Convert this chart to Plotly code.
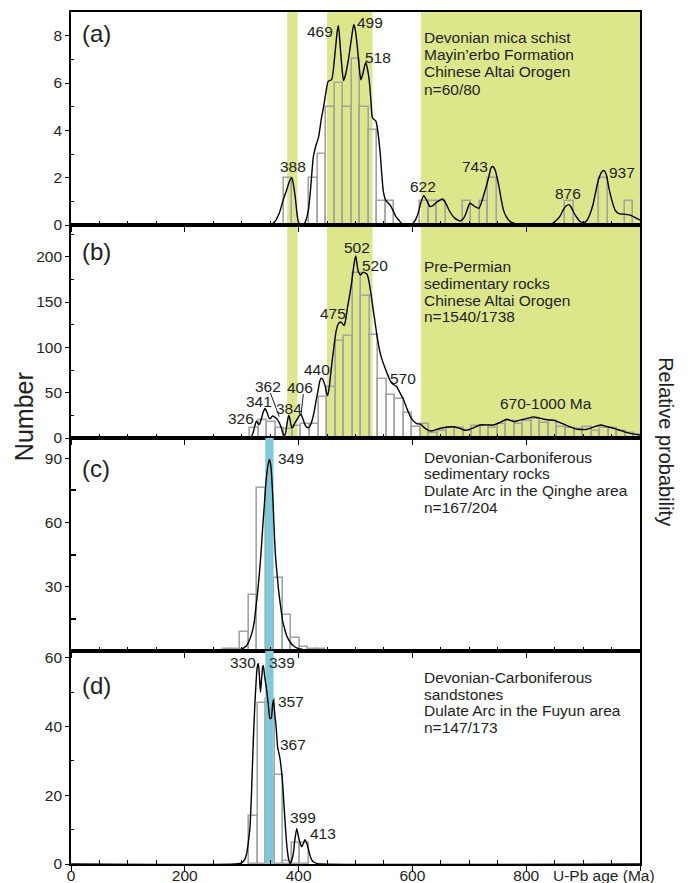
import plotly.graph_objects as go
from plotly.subplots import make_subplots

# ---------------- data ----------------
BIN_WIDTH = 15

# (a) Devonian mica schist
A_BIN_START = 373.5
A_COUNTS = [2, 0, 0, 2, 3, 5, 6, 5, 7, 5, 4, 1, 1, 0, 0, 0, 1, 1, 1, 0, 0, 1, 0, 1, 2,
            0, 0, 0, 0, 0, 0, 0, 0, 1, 0, 0, 0, 2, 0, 0, 1]
A_CURVE_AGE = [0, 350, 358, 366, 373, 379, 384, 388, 391, 394, 399.5, 404, 410, 417, 421, 426, 431, 435,
               440, 444, 448, 452, 458, 464, 468, 470, 473, 476, 479, 483, 488, 493, 497, 500, 503.5,
               506, 509.4, 513, 518, 521, 524, 527, 530, 536, 540, 543.4, 546, 549, 553, 558, 562, 567,
               571, 576, 584, 596, 602, 606, 610, 615, 620, 625, 631, 636, 642, 653, 659, 666, 674, 684,
               689, 693, 697, 701, 706, 710, 717, 722, 728, 734, 738, 741, 745, 751, 756, 760, 765, 772,
               783, 800, 845, 853.5, 860, 865, 870, 875, 879, 883, 888, 895, 901, 906, 912, 918, 923,
               927, 933, 937, 941, 946, 951, 956, 961, 965, 975, 983, 990, 1000]
A_CURVE_VAL = [0, 0, 0.14, 0.5, 1.06, 1.48, 1.85, 2.0, 1.7, 1.2, 0.14, 0, 0.05, 0.6, 1.5, 2.9, 3.4, 3.7,
               4.5, 5.0, 5.6, 6.07, 6.14, 7.27, 8.2, 8.43, 7.6, 6.7, 6.1, 6.4, 7.06, 7.9, 8.47, 8.2, 7.45,
               6.8, 6.14, 6.4, 6.88, 6.6, 6.14, 5.3, 4.52, 4.38, 3.8, 3.04, 2.2, 1.41, 1.05, 0.92, 0.8,
               0.56, 0.35, 0.21, 0, 0, 0.1, 0.25, 0.49, 0.95, 1.24, 1.05, 0.78, 0.82, 0.95, 1.1, 0.9,
               0.56, 0.3, 0.17, 0.25, 0.42, 0.7, 0.92, 0.85, 0.78, 0.71, 1.0, 1.48, 2.0, 2.4, 2.47, 2.35,
               1.77, 1.1, 0.64, 0.35, 0.14, 0.04, 0, 0.05, 0.21, 0.4, 0.64, 0.8, 0.86, 0.75, 0.56, 0.35,
               0.14, 0.1, 0.17, 0.45, 0.92, 1.5, 1.91, 2.25, 2.3, 2.1, 1.48, 1.0, 0.64, 0.5, 0.47, 0.45,
               0.42, 0.33, 0.21]

# (b) Pre-Permian sedimentary rocks
B_BIN_START = 315
B_COUNTS = [11, 20, 18, 11, 10, 13, 16, 16, 45, 56, 107, 112, 182, 157, 114, 65, 47, 43, 28, 12,
            15, 6, 8, 11, 11, 8, 13, 13, 11, 15, 19, 15, 19, 21, 17, 19, 12, 11, 10, 12,
            8, 11, 11, 8, 5, 3]
B_CURVE_AGE = [0, 305, 312, 317.5, 320, 323.4, 326, 328.6, 331, 335, 338, 341, 344, 348.5, 351, 354.4,
               358, 361.4, 365, 368.5, 372, 374.9, 377, 379, 381, 383, 385, 387.8, 390, 393.7, 398,
               401, 403.7, 407, 411, 414, 418, 422, 427, 431, 434.7, 437, 439.4, 442, 446.4, 449, 451,
               454, 458, 462, 465.7, 469, 472.8, 476, 479.8, 482, 485.6, 489, 493.3, 497, 500.3, 502,
               505, 509, 513, 516.7, 520, 522.6, 525, 528.4, 531, 534.3, 538, 543, 548, 554.8, 559,
               563.6, 568, 572.4, 578, 584, 590, 595.8, 601.6, 607.5, 614.5, 620, 625, 631, 637, 642.6,
               652, 663, 675, 684, 692.6, 700, 710, 719, 730, 742.6, 755, 766, 772, 778, 787, 795.7,
               805, 813, 822, 831, 840, 848.5, 857, 866, 878, 890, 898, 907, 918, 930.6, 942, 954, 965,
               977.6, 990, 1000]
B_CURVE_VAL = [0, 0, 0.5, 2.2, 6, 14, 18.9, 16, 15, 22, 29, 32.5, 29, 21.5, 22, 24.4,
               23, 21.5, 18, 13.3, 6, 2.2, 5, 13, 21, 25, 20, 11.5, 12, 17, 21,
               24.5, 26.2, 22, 15, 12, 11.5, 16, 28, 42, 54, 62, 66, 65, 58, 50, 46.6,
               57, 79.8, 100, 117, 125, 128, 127, 124, 128, 143, 155, 172, 190, 200.8, 195,
               183.4, 180, 183, 182.3, 181, 176, 168, 154, 142, 128, 112, 94.8, 84, 72.6, 66,
               60.7, 58.5, 56.6, 50, 43, 33, 24.4, 18.9, 16, 15.2, 12, 9.5, 7.8, 8.2, 9.6,
               11, 12.2, 12.2, 10.5, 8.5, 9.5, 12, 14.4, 14.5, 14.4, 17.5, 20.7, 19.5, 18.1, 19.5, 20.7,
               22.2, 23.3, 22.2, 20.7, 20, 19.6, 17.5, 15.2, 12, 9.6, 9.4, 9.6, 12, 14.4, 12.5, 10.7, 8.5,
               5.9, 4.3, 3.3]

# (c) Devonian-Carboniferous sedimentary rocks, Qinghe
C_BIN_START = 267
C_COUNTS = [1, 1, 9, 26, 76, 0, 34, 17, 6, 2, 1, 1]
C_CURVE_AGE = [0, 250, 270, 285, 297, 308.7, 317.5, 322, 325, 328, 331, 334, 336.9, 340, 342.8, 346,
               348.7, 351, 352.8, 355, 356.9, 359, 361.6, 365, 368.6, 372, 376.3, 380, 385, 390, 396.7,
               405, 414, 430, 450, 1000]
C_CURVE_VAL = [0, 0, 0.1, 0.3, 0.6, 2.6, 8, 13.5, 20.5, 27.5, 36, 46, 57.7, 69, 79.3, 86.5,
               89.5, 87, 81, 70, 57.7, 46, 37.6, 28, 20.5, 14, 9.6, 6.5, 4.2, 2.6, 1.5,
               0.8, 0.3, 0.1, 0, 0]

# (d) Devonian-Carboniferous sandstones, Fuyun
D_BIN_START = 298
D_COUNTS = [0, 14, 47, 48, 26, 1, 6, 6]
D_CURVE_AGE = [0, 290, 300, 305, 308.7, 311, 314.6, 317.5, 320.4, 323, 325.1, 327, 329.2, 331, 333,
               335, 337, 338, 340, 343.9, 347, 349.7, 352, 354, 355.6, 357, 358.5, 360.3, 363.2, 367.3,
               370, 372, 374, 376, 378, 380.1, 382, 384.9, 387, 390.7, 393, 396.6, 399, 401.2, 405.4,
               408, 411.2, 414, 417, 420, 423, 427, 431.8, 440, 1000]
D_CURVE_VAL = [0, 0, 0.3, 1.2, 3, 5.5, 10.8, 22, 36, 46, 52.4, 57, 58.4, 55, 50,
               54, 57.5, 57.7, 55, 50.5, 46, 42.3, 42.5, 46, 47.8, 46, 43, 40.3, 34, 30.7,
               27, 23.4, 18, 12.8, 8, 4.1, 1.8, 0.2, 0.6, 3.1, 6.5, 10.3, 8.5, 6.9, 5,
               5.8, 7.1, 6.2, 4.5, 2.5, 1.2, 0.5, 0.2, 0, 0]

GREEN_BANDS = [(380, 398), (450, 530), (615, 1000)]   # Ma, panels a & b
BLUE_BAND = (341.5, 356)                             # Ma, panels c & d

Y_RANGES = [(0, 9), (0, 235), (0, 99.5), (0, 62)]
Y_TICKS = [[0, 2, 4, 6, 8], [0, 50, 100, 150, 200], [30, 60, 90], [0, 20, 40, 60]]
Y_MINOR = [[1, 3, 5, 7], [25, 75, 125, 175, 225], [15, 45, 75], [10, 30, 50]]
X_TICKS = [0, 200, 400, 600, 800, 1000]
X_TICKTEXT = ["0", "200", "400", "600", "800", ""]
X_MINOR = [v for v in range(50, 1000, 50) if v % 200]

PANEL_LABELS = ["(a)", "(b)", "(c)", "(d)"]
INFO = [
    ["Devonian mica schist", "Mayin’erbo Formation", "Chinese Altai Orogen", "n=60/80"],
    ["Pre-Permian", "sedimentary rocks", "Chinese Altai Orogen", "n=1540/1738"],
    ["Devonian-Carboniferous", "sedimentary rocks", "Dulate Arc in the Qinghe area", "n=167/204"],
    ["Devonian-Carboniferous", "sandstones", "Dulate Arc in the Fuyun area", "n=147/173"],
]
PEAKS = [
    [("388", 293, 166.7), ("469", 320, 31), ("499", 370, 22.7), ("518", 378, 57.7),
     ("622", 423, 186.7), ("743", 475, 166.7), ("876", 567.5, 193.3), ("937", 622, 172.3)],
    [("326", 241, 418.3), ("341", 258.5, 401), ("362", 267.5, 386), ("384", 288.5, 408),
     ("406", 299.7, 387.3), ("440", 317, 369), ("475", 333, 313.3), ("502", 356.7, 247.7),
     ("520", 374.8, 265), ("570", 403.3, 378.3), ("670-1000 Ma", 545.5, 403.3)],
    [("349", 290.8, 458.3)],
    [("330", 243.3, 662.7), ("339", 281.7, 662.7), ("357", 291, 701), ("367", 292.5, 744.3),
     ("399", 302.8, 817.3), ("413", 322.5, 833.3)],
]

# ---------------- style ----------------
FONT = "Liberation Sans, Arial, sans-serif"
TXT = "#231f20"
GREEN = "#dde68b"
BLUE = "#80c9d8"
BAR_LINE = "#a3a3a3"

OFF = 8                      # page body margin of the html page
PAGE_W, PAGE_H = 688, 883
W, H = PAGE_W - OFF, PAGE_H - OFF
PLOT_L, PLOT_R, PLOT_T, PLOT_B = 71, 640, 12, 863.7   # page pixels of the plotting area
L, T = PLOT_L - OFF, PLOT_T - OFF
R, B = W - (PLOT_R - OFF), H - (PLOT_B - OFF)
PW, PH = PLOT_R - PLOT_L, PLOT_B - PLOT_T


def paper(px, py):
    return (px - PLOT_L) / PW, (PLOT_B - py) / PH


fig = make_subplots(rows=4, cols=1, shared_xaxes=True, vertical_spacing=0)

hist = [(A_BIN_START, A_COUNTS), (B_BIN_START, B_COUNTS), (C_BIN_START, C_COUNTS), (D_BIN_START, D_COUNTS)]
curves = [(A_CURVE_AGE, A_CURVE_VAL), (B_CURVE_AGE, B_CURVE_VAL), (C_CURVE_AGE, C_CURVE_VAL),
          (D_CURVE_AGE, D_CURVE_VAL)]

for i in range(4):
    row = i + 1
    start, counts = hist[i]
    xs = [start + BIN_WIDTH * (k + 0.5) for k, c in enumerate(counts) if c > 0]
    ys = [c for c in counts if c > 0]
    fig.add_trace(go.Bar(x=xs, y=ys, width=BIN_WIDTH, marker=dict(color="rgba(0,0,0,0)",
                                                                   line=dict(color=BAR_LINE, width=1.6)),
                         hoverinfo="skip"), row=row, col=1)
    if i >= 2:
        b0, b1 = BLUE_BAND
        ytop = Y_RANGES[i][1]
        fig.add_trace(go.Scatter(x=[b0, b1, b1, b0, b0], y=[0, 0, ytop, ytop, 0], fill="toself",
                                 fillcolor=BLUE, line=dict(width=0), mode="lines", hoverinfo="skip"),
                      row=row, col=1)
    ca, cv = curves[i]
    fig.add_trace(go.Scatter(x=ca, y=cv, mode="lines", line=dict(color="black", width=1.4, shape="spline",
                                                                 smoothing=0.6),
                             hoverinfo="skip"), row=row, col=1)

# green bands
for i in range(2):
    xr = "x" if i == 0 else "x2"
    yr = "y domain" if i == 0 else "y2 domain"
    for b0, b1 in GREEN_BANDS:
        fig.add_shape(type="rect", xref=xr, yref=yr, x0=b0, x1=b1, y0=0, y1=1, fillcolor=GREEN,
                      line=dict(width=0), layer="below")

# leader lines in (b)
for (x0, y0, x1, y1) in [(350.5, 49.6, 366, 23.5), (408.3, 48.5, 404.2, 25.2)]:
    fig.add_shape(type="line", xref="x2", yref="y2", x0=x0, y0=y0, x1=x1, y1=y1,
                  line=dict(color=TXT, width=1))

tickfont = dict(family=FONT, size=15.5, color=TXT)
for i in range(4):
    row = i + 1
    fig.update_xaxes(row=row, col=1, range=[0, 1000], showline=True, linecolor="black", linewidth=1.6,
                     mirror=True, ticks="outside", ticklen=5, tickwidth=1.3, tickcolor="black",
                     tickmode="array", tickvals=X_TICKS, ticktext=X_TICKTEXT, showgrid=False,
                     zeroline=False, tickfont=tickfont, automargin=False,
                     minor=dict(tickmode="array", tickvals=X_MINOR, ticks="inside", ticklen=4,
                                tickwidth=1, tickcolor="black", showgrid=False),
                     showticklabels=(i == 3), ticklabelstandoff=-8)
    fig.update_yaxes(row=row, col=1, range=list(Y_RANGES[i]), showline=True, linecolor="black",
                     linewidth=1.6, mirror=True, ticks="outside", ticklen=4, tickwidth=1.3,
                     tickcolor="black", tickmode="array", tickvals=Y_TICKS[i], showgrid=False,
                     zeroline=False, tickfont=tickfont, automargin=False,
                     minor=dict(tickmode="array", tickvals=Y_MINOR[i], ticks="inside",
                                ticklen=3 if i != 2 else 5, tickwidth=1 if i != 2 else 2.2,
                                tickcolor="black", showgrid=False))

ann = []


def add_text(text, px, py, size=15.5, xanchor="center", angle=0):
    x, y = paper(px, py)
    ann.append(dict(text=text, x=x, y=y, xref="paper", yref="paper", showarrow=False,
                    xanchor=xanchor, yanchor="middle", textangle=angle, borderpad=0,
                    font=dict(family=FONT, size=size, color=TXT)))


panel_label_y = [33.3, 251.7, 468.3, 685]
info_top = [37.3, 266.7, 457, 677.7]
info_step = [17.3, 16.6, 16.8, 16.4]
for i in range(4):
    add_text(PANEL_LABELS[i], 96, panel_label_y[i], size=24)
    for k, line in enumerate(INFO[i]):
        add_text(line, 423.3, info_top[i] + info_step[i] * k, size=15.5, xanchor="left")
    for (t, px, py) in PEAKS[i]:
        add_text(t, px, py, size=15.5)

add_text("Number", 24, 417, size=25, angle=-90)
add_text("Relative probability", 666, 442, size=20, angle=90)
add_text("U-Pb age (Ma)", 604, 875, size=15.5)

fig.update_layout(width=W, height=H, margin=dict(l=L, r=R, t=T, b=B), showlegend=False,
                  plot_bgcolor="white", paper_bgcolor="white", annotations=ann, hovermode=False,
                  bargap=0, font=dict(family=FONT, color=TXT))

fig.write_html("out.html")
